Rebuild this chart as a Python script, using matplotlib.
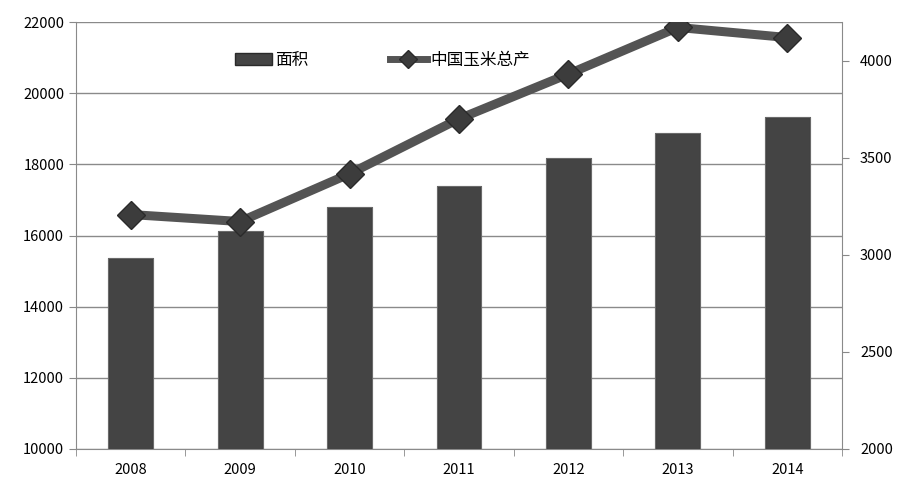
import numpy as np
import matplotlib
matplotlib.use("Agg")
import matplotlib.pyplot as plt
from matplotlib.lines import Line2D
from matplotlib.patches import Patch

plt.rcParams["font.family"] = ["Noto Sans CJK SC", "DejaVu Sans"]

# 数据
years = ["2008", "2009", "2010", "2011", "2012", "2013", "2014"]
area = [15370, 16120, 16800, 17390, 18180, 18890, 19320]
output = [3208, 3172, 3418, 3701, 3932, 4172, 4120]

left_ticks = [10000, 12000, 14000, 16000, 18000, 20000, 22000]
right_ticks = [2000, 2500, 3000, 3500, 4000]

fig = plt.figure(figsize=(9.09, 4.91), dpi=100)
ax = fig.add_axes([76 / 909, 42 / 491, 766 / 909, 427 / 491])
x = np.arange(len(years))

ax.bar(x, area, width=0.41, color="#444444", edgecolor="#2a2a2a",
       linewidth=0.8, zorder=3)
# 顶部高光
ax.bar(x, [a - 10000 for a in area], width=0.41, bottom=10000, color="none",
       edgecolor="#777777", linewidth=0.6, zorder=3)

ax.set_ylim(10000, 22000)
ax.set_yticks(left_ticks)
ax.set_xlim(-0.5, len(years) - 0.5)
ax.set_xticks(x)
ax.set_xticklabels(years)
ax.set_xticks(np.arange(-0.5, len(years)), minor=True)
ax.tick_params(axis="x", which="major", length=0, pad=10, labelsize=10.5)
ax.tick_params(axis="x", which="minor", length=5, color="#888888")
ax.tick_params(axis="y", length=5, color="#888888", labelsize=10.5)
ax.grid(axis="y", color="#8a8a8a", linewidth=1, zorder=0)
for s in ["left", "bottom", "right"]:
    ax.spines[s].set_color("#8a8a8a")
ax.spines["top"].set_visible(False)

ax2 = ax.twinx()
ax2.plot(x, output, color="#545454", linewidth=6.5, marker="D", markersize=14,
         markerfacecolor="#3c3c3c", markeredgecolor="#2a2a2a", zorder=5)
ax2.set_ylim(2000, 4200)
ax2.set_yticks(right_ticks)
ax2.tick_params(axis="y", length=5, color="#888888", labelsize=10.5, pad=8)
for s in ["left", "bottom", "right", "top"]:
    ax2.spines[s].set_visible(False)

handles = [
    Patch(facecolor="#444444", edgecolor="#2a2a2a", label="面积"),
    Line2D([0], [0], color="#545454", linewidth=5, marker="D", markersize=9,
           markerfacecolor="#3c3c3c", markeredgecolor="#2a2a2a", label="中国玉米总产"),
]
ax2.legend(handles=handles, loc="upper left", bbox_to_anchor=(0.188, 0.965),
           ncol=2, frameon=False, fontsize=12, handlelength=2.2,
           handletextpad=0.2, columnspacing=4.9)

fig.savefig("out.png", dpi=100)
